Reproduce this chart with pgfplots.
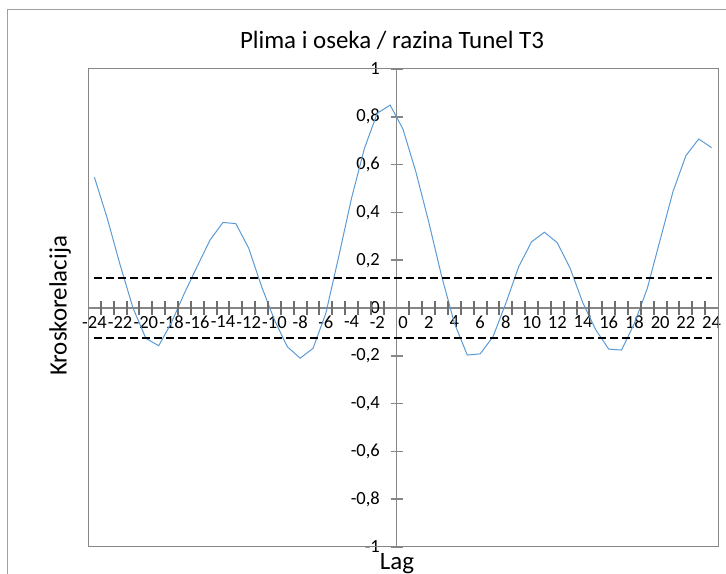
\documentclass[border=0pt]{standalone}
\usepackage{pgfplots}
\usepackage{pgfplotstable}
\pgfplotsset{compat=1.18}
\usepackage{fontspec}
\setmainfont{Carlito}
\definecolor{xlblue}{RGB}{91,155,213}
\definecolor{axgray}{RGB}{134,134,134}
\definecolor{tickgray}{RGB}{110,110,110}
\definecolor{framegray}{RGB}{160,160,160}
\pgfplotstableread{
lag val
-24 0.547
-23 0.375
-22 0.180
-21 0.000
-20 -0.127
-19 -0.158
-18 -0.060
-17 0.062
-16 0.175
-15 0.285
-14 0.358
-13 0.353
-12 0.250
-11 0.090
-10 -0.050
-9 -0.162
-8 -0.210
-7 -0.169
-6 -0.022
-5 0.215
-4 0.460
-3 0.668
-2 0.815
-1 0.849
0 0.748
1 0.570
2 0.360
3 0.134
4 -0.064
5 -0.197
6 -0.192
7 -0.120
8 0.020
9 0.173
10 0.277
11 0.317
12 0.273
13 0.166
14 0.020
15 -0.092
16 -0.172
17 -0.176
18 -0.064
19 0.082
20 0.285
21 0.487
22 0.637
23 0.707
24 0.671
}\ccf
\begin{document}
\begin{tikzpicture}
\useasboundingbox (0,0) rectangle (544.5pt,430.5pt);
\draw[color=framegray, line width=0.75pt] (5.25pt,-10pt) -- (5.25pt,423pt) -- (560pt,423pt);
\begin{axis}[
  at={(66pt,20.25pt)}, anchor=south west,
  width=472.5pt, height=358.5pt, scale only axis,
  xmin=-24, xmax=25, ymin=-1, ymax=1,
  axis lines=middle,
  axis line style={-, color=axgray, line width=1.2pt},
  every tick/.style={color=axgray, line width=1pt},
  tick align=center,
  major tick length=0pt,
  xtick={-23.5,-21.5,...,24.5},
  xticklabels={-24,-22,-20,-18,-16,-14,-12,-10,-8,-6,-4,-2,0,2,4,6,8,10,12,14,16,18,20,22,24},
  ytick={-1,-0.8,-0.6,-0.4,-0.2,0,0.2,0.4,0.6,0.8,1},
  yticklabel style={xshift=-9pt, /pgf/number format/.cd, use comma, fixed, precision=1, assume math mode=true},
  xticklabel style={yshift=-2.5pt},
  tick label style={font=\fontsize{13.9}{16}\selectfont, text=black},
  hide obscured x ticks=false, hide obscured y ticks=false,
  clip=false,
]
\draw[color=axgray, line width=0.75pt] (rel axis cs:0,0) rectangle (rel axis cs:1,1);
\pgfplotsinvokeforeach{-1,-0.8,-0.6,-0.4,-0.2,0,0.2,0.4,0.6,0.8,1}{
  \draw[color=axgray, line width=1.2pt] ([xshift=-4.5pt]axis cs:0,#1) -- ([xshift=4.5pt]axis cs:0,#1);
}
\addplot[color=xlblue, line width=0.75pt, mark=none] table[x expr=\thisrow{lag}+0.5, y=val] {\ccf};
\addplot[black, line width=1.6pt, dash pattern=on 6pt off 3pt, mark=none] coordinates {(-23.5,0.124) (24.5,0.124)};
\addplot[black, line width=1.6pt, dash pattern=on 6pt off 3pt, mark=none] coordinates {(-23.5,-0.124) (24.5,-0.124)};
\end{axis}
% category boundary tick marks crossing the horizontal axis (y = 0 line), written out
\draw[color=tickgray, line width=1.6pt]
  (75.64pt,194.5pt) -- ++(0,10pt) (85.29pt,194.5pt) -- ++(0,10pt) (94.93pt,194.5pt) -- ++(0,10pt)
  (104.57pt,194.5pt) -- ++(0,10pt) (114.21pt,194.5pt) -- ++(0,10pt) (123.86pt,194.5pt) -- ++(0,10pt)
  (133.50pt,194.5pt) -- ++(0,10pt) (143.14pt,194.5pt) -- ++(0,10pt) (152.79pt,194.5pt) -- ++(0,10pt)
  (162.43pt,194.5pt) -- ++(0,10pt) (172.07pt,194.5pt) -- ++(0,10pt) (181.71pt,194.5pt) -- ++(0,10pt)
  (191.36pt,194.5pt) -- ++(0,10pt) (201.00pt,194.5pt) -- ++(0,10pt) (210.64pt,194.5pt) -- ++(0,10pt)
  (220.29pt,194.5pt) -- ++(0,10pt) (229.93pt,194.5pt) -- ++(0,10pt) (239.57pt,194.5pt) -- ++(0,10pt)
  (249.21pt,194.5pt) -- ++(0,10pt) (258.86pt,194.5pt) -- ++(0,10pt) (268.50pt,194.5pt) -- ++(0,10pt)
  (278.14pt,194.5pt) -- ++(0,10pt) (287.79pt,194.5pt) -- ++(0,10pt)
  (307.07pt,194.5pt) -- ++(0,10pt) (316.71pt,194.5pt) -- ++(0,10pt) (326.36pt,194.5pt) -- ++(0,10pt)
  (336.00pt,194.5pt) -- ++(0,10pt) (345.64pt,194.5pt) -- ++(0,10pt) (355.29pt,194.5pt) -- ++(0,10pt)
  (364.93pt,194.5pt) -- ++(0,10pt) (374.57pt,194.5pt) -- ++(0,10pt) (384.21pt,194.5pt) -- ++(0,10pt)
  (393.86pt,194.5pt) -- ++(0,10pt) (403.50pt,194.5pt) -- ++(0,10pt) (413.14pt,194.5pt) -- ++(0,10pt)
  (422.79pt,194.5pt) -- ++(0,10pt) (432.43pt,194.5pt) -- ++(0,10pt) (442.07pt,194.5pt) -- ++(0,10pt)
  (451.71pt,194.5pt) -- ++(0,10pt) (461.36pt,194.5pt) -- ++(0,10pt) (471.00pt,194.5pt) -- ++(0,10pt)
  (480.64pt,194.5pt) -- ++(0,10pt) (490.29pt,194.5pt) -- ++(0,10pt) (499.93pt,194.5pt) -- ++(0,10pt)
  (509.57pt,194.5pt) -- ++(0,10pt) (519.21pt,194.5pt) -- ++(0,10pt) (528.86pt,194.5pt) -- ++(0,10pt);
\node[font=\fontsize{18.7}{22}\selectfont] at (294pt,400.5pt) {Plima i oseka / razina Tunel T3};
\node[font=\fontsize{18.7}{22}\selectfont, rotate=90] at (45pt,201pt) {Kroskorelacija};
\node[font=\fontsize{18.7}{22}\selectfont] at (297.75pt,7.5pt) {Lag};
\end{tikzpicture}
\end{document}
